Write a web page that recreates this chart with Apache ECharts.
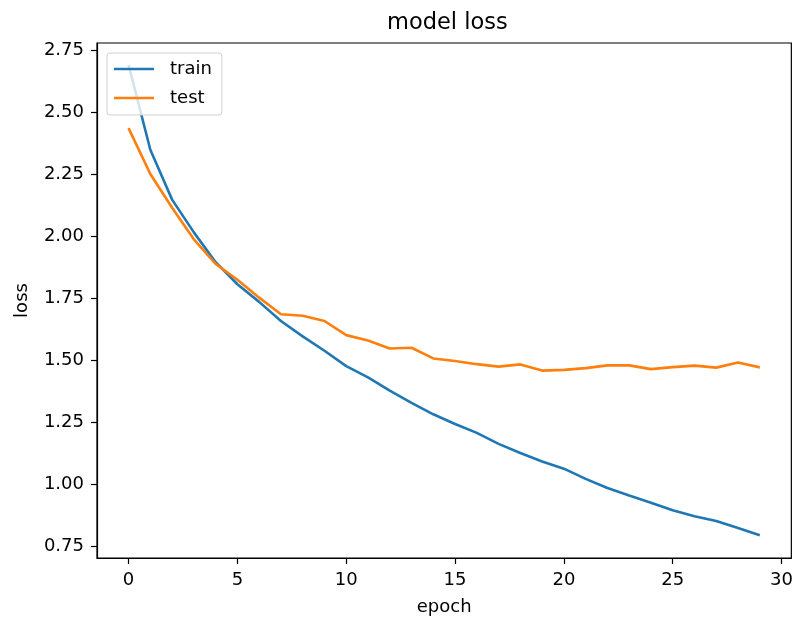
<!DOCTYPE html>
<html>
<head>
<meta charset="utf-8">
<script src="https://cdn.jsdelivr.net/npm/echarts@6/dist/echarts.min.js"></script>
<style>
html,body{margin:0;padding:0;background:#fff;}
#chart{width:796px;height:621px;}
</style>
</head>
<body>
<div id="chart"></div>
<script>
const epochs = [0,1,2,3,4,5,6,7,8,9,10,11,12,13,14,15,16,17,18,19,20,21,22,23,24,25,26,27,28,29];
const train = [2.69,2.348,2.147,2.015,1.895,1.806,1.735,1.658,1.596,1.538,1.476,1.431,1.377,1.328,1.282,1.243,1.207,1.163,1.126,1.092,1.063,1.022,0.985,0.955,0.926,0.895,0.871,0.852,0.824,0.795];
const test = [2.435,2.25,2.114,1.987,1.888,1.824,1.752,1.685,1.679,1.658,1.601,1.579,1.547,1.55,1.507,1.497,1.484,1.474,1.483,1.458,1.461,1.468,1.479,1.479,1.464,1.472,1.478,1.47,1.491,1.471];
const xTicks = [0,5,10,15,20,25,30];
const yTicks = [0.75,1.0,1.25,1.5,1.75,2.0,2.25,2.5,2.75];
const seriesNames = ['train','test'];

const FONT = 'DejaVu Sans';
const chart = echarts.init(document.getElementById('chart'), null, {renderer:'canvas'});
const toPairs = arr => epochs.map((e,i)=>[e, arr[i]]);

chart.setOption({
  animation:false,
  backgroundColor:'#fff',
  title:{
    text:'model loss', left:382, top:7,
    textStyle:{fontFamily:FONT,fontSize:22.5,fontWeight:'normal',color:'#000'}
  },
  legend:{
    orient:'vertical', left:107, top:53,
    data:seriesNames,
    icon:'rect',
    itemWidth:40, itemHeight:2.6, itemGap:11,
    padding:[7,10,8,7],
    backgroundColor:'rgba(255,255,255,0.8)',
    borderColor:'#d0d0d0', borderWidth:1, borderRadius:3,
    textStyle:{fontFamily:FONT,fontSize:18,color:'#000',padding:[0,0,0,11]}
  },
  grid:{left:97,right:3,top:43,bottom:62,show:true,borderColor:'#000',borderWidth:1.2,backgroundColor:'transparent'},
  xAxis:{
    type:'value', min:-1.45, max:30.45,
    name:'epoch', nameLocation:'middle', nameGap:40,
    nameTextStyle:{fontFamily:FONT,fontSize:18,color:'#000'},
    axisLine:{show:true,onZero:false,lineStyle:{color:'#000',width:1.2}},
    axisTick:{show:true,length:6,lineStyle:{color:'#000',width:1.2},customValues:xTicks},
    axisLabel:{fontFamily:FONT,fontSize:18,color:'#000',margin:13,customValues:xTicks},
    splitLine:{show:false}
  },
  yAxis:{
    type:'value', min:0.703, max:2.778,
    name:'loss', nameLocation:'middle', nameGap:66,
    nameTextStyle:{fontFamily:FONT,fontSize:18,color:'#000'},
    axisLine:{show:true,onZero:false,lineStyle:{color:'#000',width:1.2}},
    axisTick:{show:true,length:6,lineStyle:{color:'#000',width:1.2},customValues:yTicks},
    axisLabel:{fontFamily:FONT,fontSize:18,color:'#000',margin:13,customValues:yTicks,formatter:v=>v.toFixed(2)},
    splitLine:{show:false}
  },
  series:[
    {name:seriesNames[0],type:'line',data:toPairs(train),symbol:'none',color:'#1f77b4',lineStyle:{width:2.6,color:'#1f77b4'}},
    {name:seriesNames[1],type:'line',data:toPairs(test),symbol:'none',color:'#ff7f0e',lineStyle:{width:2.6,color:'#ff7f0e'}}
  ]
});
</script>
</body>
</html>
